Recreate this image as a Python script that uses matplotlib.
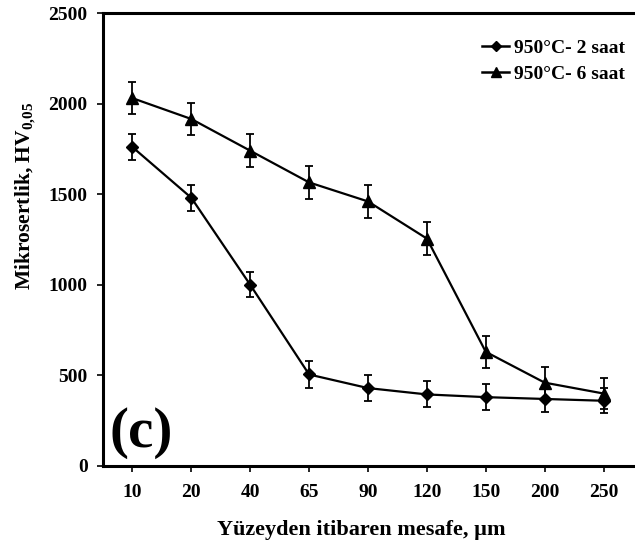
import matplotlib

matplotlib.use("Agg")
import matplotlib.pyplot as plt
import numpy as np
from matplotlib.lines import Line2D

plt.rcParams["font.family"] = ["Liberation Serif", "DejaVu Serif"]
plt.rcParams["font.weight"] = "bold"
plt.rcParams["mathtext.fontset"] = "custom"
plt.rcParams["mathtext.rm"] = "Liberation Serif:bold"
plt.rcParams["mathtext.it"] = "Liberation Serif:bold"

# distance from surface (um), shown as evenly spaced categories
distances = ["10", "20", "40", "65", "90", "120", "150", "200", "250"]

hv_2h = [1760, 1480, 1000, 505, 430, 395, 380, 370, 360]
err_2h = [72, 72, 70, 75, 70, 72, 72, 70, 70]

hv_6h = [2030, 1915, 1740, 1565, 1460, 1255, 630, 460, 400]
err_6h = [88, 88, 90, 90, 90, 90, 88, 88, 88]

labels = ["950°C- 2 saat", "950°C- 6 saat"]


def main():
    fig = plt.figure(figsize=(6.35, 5.44), dpi=100)
    ax = fig.add_axes([103 / 635, 1 - 466 / 544, 530 / 635, 453 / 544])

    x = np.arange(1, len(distances) + 1)
    ax.errorbar(x, hv_2h, yerr=err_2h, color="black", lw=1.6, marker="D",
                ms=6.5, capsize=3, elinewidth=1.3, capthick=1.3)
    ax.errorbar(x, hv_6h, yerr=err_6h, color="black", lw=1.6, marker="^",
                ms=9, capsize=3, elinewidth=1.3, capthick=1.3)

    ax.set_xlim(0.5, len(distances) + 0.5)
    ax.set_ylim(0, 2500)
    ax.set_xticks(x)
    ax.set_xticklabels(distances)
    ax.set_yticks(np.arange(0, 2501, 500))
    ax.tick_params(axis="both", direction="out", length=4, width=1.2,
                   labelsize=14)
    ax.tick_params(axis="y", pad=7)
    ax.tick_params(axis="x", pad=9)
    for lab in ax.get_xticklabels() + ax.get_yticklabels():
        lab.set_fontweight("bold")

    for side in ("left", "bottom", "top"):
        ax.spines[side].set_linewidth(2.2)
    ax.spines["right"].set_visible(False)

    ax.set_xlabel("Yüzeyden itibaren mesafe, µm", fontsize=16,
                  fontweight="bold")
    ax.xaxis.set_label_coords((361 - 103) / 530, -(535 - 466) / 453)
    ax.xaxis.label.set_va("baseline")
    ax.set_ylabel(r"Mikrosertlik, HV$_{0{,}05}$", fontsize=15.5,
                  fontweight="bold")
    ax.yaxis.set_label_coords((38 - 103) / 530, (466 - 196) / 453)

    ax.text(0.013, 0.015, "(c)", transform=ax.transAxes, fontsize=41,
            fontweight="bold", ha="left", va="bottom")

    handles = [
        Line2D([], [], color="black", lw=1.8, marker="D", ms=5),
        Line2D([], [], color="black", lw=1.8, marker="^", ms=7),
    ]
    leg = ax.legend(handles, labels, loc="upper right",
                    bbox_to_anchor=(1.006, 0.968), frameon=False, fontsize=14,
                    handlelength=1.35, handletextpad=0.25, labelspacing=0.42,
                    borderaxespad=0.2)
    for t in leg.get_texts():
        t.set_fontweight("bold")

    fig.savefig("out.png", dpi=100)
    plt.close(fig)


if __name__ == "__main__":
    main()
